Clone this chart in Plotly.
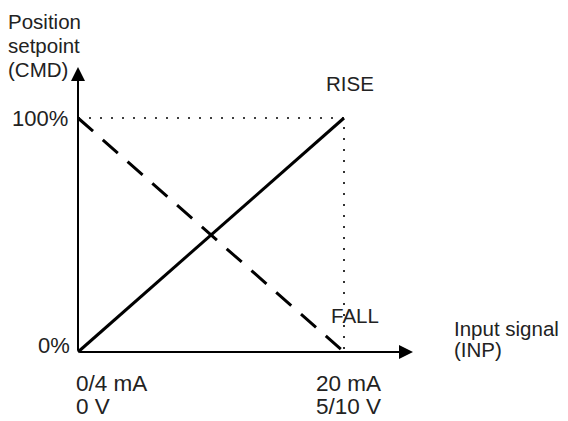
import plotly.graph_objects as go

# Data (percent of input span vs percent of position setpoint)
input_pct = [0, 100]
rise_cmd = [0, 100]
fall_cmd = [100, 0]
y_ticks = ["0%", "100%"]
x_ticks_top = ["0/4 mA", "20 mA"]
x_ticks_bottom = ["0 V", "5/10 V"]

OFF = 8  # default page body margin
W, H = 568 - OFF, 421 - OFF
X0, X1 = 78, 344   # page pixel of 0 and 100 on x
Y0, Y1 = 352, 118  # page pixel of 0 and 100 on y
sx = (X1 - X0) / 100.0
sy = (Y0 - Y1) / 100.0

def dx(p):
    return (p - X0) / sx

def dy(p):
    return (Y0 - p) / sy

FONT = "Liberation Sans, Arial, Helvetica, sans-serif"

fig = go.Figure()

# dotted guides
fig.add_trace(go.Scatter(x=[input_pct[0], input_pct[1], input_pct[1]],
                         y=[rise_cmd[1], rise_cmd[1], rise_cmd[0]],
                         mode="lines", line=dict(color="black", width=1.6, dash="2px,9px"),
                         hoverinfo="skip", showlegend=False))
# RISE
fig.add_trace(go.Scatter(x=input_pct, y=rise_cmd, mode="lines",
                         line=dict(color="black", width=3), showlegend=False))
# FALL
fig.add_trace(go.Scatter(x=input_pct, y=fall_cmd, mode="lines",
                         line=dict(color="black", width=3, dash="20px,13px"), showlegend=False))

ann = []
# axes with arrows
ann.append(dict(x=dx(413), y=0, ax=0, ay=0, xref="x", yref="y", axref="x", ayref="y",
                showarrow=True, arrowhead=2, arrowsize=1.4, arrowwidth=2, arrowcolor="black", text=""))
ann.append(dict(x=0, y=dy(67), ax=0, ay=0, xref="x", yref="y", axref="x", ayref="y",
                showarrow=True, arrowhead=2, arrowsize=1.4, arrowwidth=2, arrowcolor="black", text=""))

def label(text, px, py, size, xanchor="left", xshift=0):
    ann.append(dict(x=dx(px), y=dy(py), xref="x", yref="y", text=text, showarrow=False,
                    xanchor=xanchor, yanchor="middle", xshift=xshift,
                    font=dict(family=FONT, size=size, color="#222222")))

label("Position", 9, 21, 20.5, xshift=-3)
label("setpoint", 9, 45, 20.5, xshift=-3)
label("(CMD)", 9, 69, 20.5, xshift=-3)
label(y_ticks[1], 70, 118, 22, "right")
label(y_ticks[0], 72, 345, 22, "right")
label(x_ticks_top[0], 74, 383, 22.5)
label(x_ticks_bottom[0], 74, 406, 22.5)
label(x_ticks_top[1], 314, 383, 22.5)
label(x_ticks_bottom[1], 314, 406, 22.5)
label("RISE", 324, 83, 20.5)
label("FALL", 329, 315, 20.5)
label("Input signal", 452, 328, 20.5)
label("(INP)", 452, 349, 20.5)

fig.update_layout(
    width=W, height=H,
    margin=dict(l=0, r=0, t=0, b=0),
    paper_bgcolor="white", plot_bgcolor="white",
    xaxis=dict(range=[dx(OFF), dx(OFF + W)], visible=False, fixedrange=True),
    yaxis=dict(range=[dy(OFF + H), dy(OFF)], visible=False, fixedrange=True),
    annotations=ann,
    showlegend=False,
)

fig.write_html("out.html")
